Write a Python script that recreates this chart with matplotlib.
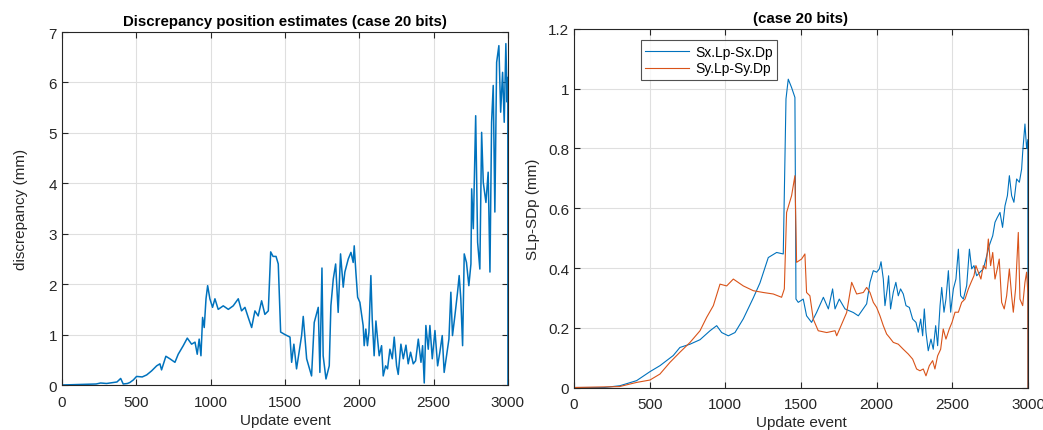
import matplotlib.pyplot as plt

plt.rcParams['font.family'] = ['Liberation Sans', 'DejaVu Sans']

# left panel: discrepancy (mm) vs update event
ev_d = [0, 230, 260, 300, 345, 370, 395, 412, 440, 457, 480, 502, 540, 570, 603, 637, 659, 670,
        699, 726, 760, 782, 816, 843, 872, 895, 910, 923, 935, 946, 957, 969, 980, 995, 1013,
        1029, 1051, 1085, 1119, 1152, 1186, 1208, 1231, 1253, 1276, 1298, 1320, 1343, 1365,
        1388, 1404, 1420, 1440, 1455, 1471, 1500, 1534, 1545, 1560, 1578, 1612, 1623, 1646,
        1679, 1697, 1724, 1735, 1749, 1757, 1776, 1798, 1809, 1825, 1841, 1858, 1874, 1892,
        1903, 1926, 1944, 1959, 1966, 1977, 1989, 2004, 2015, 2026, 2033, 2044, 2055, 2065,
        2078, 2087, 2100, 2112, 2123, 2134, 2150, 2161, 2177, 2190, 2206, 2222, 2235, 2251,
        2262, 2280, 2296, 2314, 2329, 2345, 2363, 2379, 2397, 2415, 2426, 2437, 2448, 2464,
        2475, 2491, 2509, 2527, 2542, 2558, 2571, 2587, 2603, 2616, 2627, 2643, 2661, 2672,
        2683, 2695, 2706, 2721, 2737, 2751, 2756, 2767, 2783, 2796, 2811, 2823, 2834, 2852,
        2867, 2879, 2890, 2901, 2912, 2924, 2939, 2951, 2964, 2975, 2986, 2995, 2999, 3000]
disc = [0, 0.02, 0.04, 0.03, 0.05, 0.06, 0.13, 0.02, 0.03, 0.05, 0.1, 0.17, 0.16, 0.2, 0.28, 0.38,
        0.42, 0.3, 0.57, 0.52, 0.45, 0.61, 0.78, 0.93, 0.81, 0.85, 0.61, 0.91, 0.58, 1.34, 1.14,
        1.71, 1.97, 1.71, 1.54, 1.71, 1.5, 1.57, 1.5, 1.57, 1.71, 1.47, 1.54, 1.34, 1.14, 1.47,
        1.37, 1.67, 1.4, 1.47, 2.64, 2.55, 2.55, 2.4, 1.05, 1.0, 0.95, 0.45, 0.81, 0.32, 0.98,
        1.36, 0.52, 0.18, 1.24, 1.54, 0.25, 2.32, 0.58, 0.12, 0.38, 1.57, 2.1, 2.4, 1.44, 2.6,
        1.94, 2.24, 2.5, 2.63, 2.43, 2.76, 2.24, 1.74, 1.64, 1.41, 1.18, 0.78, 1.11, 0.78, 1.05,
        2.17, 1.31, 0.58, 1.27, 0.91, 0.58, 0.78, 0.18, 0.38, 0.32, 0.71, 0.52, 0.95, 0.38,
        0.21, 0.81, 0.52, 0.79, 0.42, 0.65, 0.42, 0.48, 0.91, 0.45, 0.78, 0.04, 1.18, 0.71,
        1.18, 0.52, 1.08, 0.38, 0.65, 0.98, 0.25, 0.58, 0.91, 1.84, 0.98, 1.37, 1.84, 2.17,
        1.71, 0.78, 2.6, 2.43, 1.97, 2.4, 3.89, 3.1, 5.34, 2.83, 2.3, 5.01, 4.02, 3.62,
        4.22, 2.24, 5.21, 5.94, 3.43, 6.4, 6.73, 5.41, 6.2, 5.21, 6.77, 5.61, 6.1, 0]

# right panel: Sx.Lp-Sx.Dp
ev_x = [0, 200, 304, 414, 502, 568, 656, 700, 767, 833, 899, 943, 976, 1020, 1064, 1119, 1185,
        1229, 1284, 1339, 1383, 1401, 1416, 1438, 1460, 1467, 1482, 1515, 1537, 1570, 1603,
        1648, 1681, 1709, 1725, 1753, 1791, 1846, 1879, 1934, 1956, 1978, 2000, 2018, 2029,
        2044, 2055, 2070, 2079, 2092, 2110, 2127, 2143, 2158, 2176, 2194, 2216, 2238, 2260,
        2275, 2291, 2304, 2315, 2326, 2341, 2359, 2374, 2390, 2403, 2419, 2430, 2445, 2458,
        2474, 2489, 2507, 2524, 2540, 2555, 2573, 2595, 2613, 2628, 2643, 2661, 2683, 2705,
        2722, 2744, 2767, 2782, 2797, 2815, 2832, 2848, 2864, 2877, 2892, 2907, 2925, 2943,
        2958, 2965, 2980, 2991, 2999, 3000]
sx = [0, 0, 0.006, 0.023, 0.053, 0.073, 0.107, 0.134, 0.145, 0.16, 0.19, 0.207, 0.184, 0.173,
      0.184, 0.23, 0.30, 0.35, 0.435, 0.452, 0.447, 0.966, 1.032, 1.004, 0.971, 0.296, 0.285,
      0.296, 0.24, 0.218, 0.251, 0.302, 0.263, 0.33, 0.263, 0.296, 0.263, 0.251, 0.24, 0.28,
      0.352, 0.391, 0.386, 0.397, 0.421, 0.363, 0.274, 0.33, 0.374, 0.263, 0.319, 0.352, 0.307,
      0.33, 0.313, 0.274, 0.268, 0.229, 0.218, 0.185, 0.229, 0.173, 0.263, 0.185, 0.123, 0.162,
      0.128, 0.207, 0.14, 0.274, 0.335, 0.252, 0.296, 0.391, 0.252, 0.33, 0.363, 0.463, 0.307,
      0.296, 0.341, 0.463, 0.397, 0.408, 0.374, 0.386, 0.397, 0.43, 0.475, 0.508, 0.553, 0.569,
      0.586, 0.536, 0.608, 0.642, 0.709, 0.642, 0.62, 0.698, 0.687, 0.731, 0.787, 0.882, 0.80,
      0.83, 0]

# right panel: Sy.Lp-Sy.Dp
ev_y = [0, 300, 414, 502, 568, 634, 700, 767, 833, 877, 921, 965, 1009, 1053, 1119, 1185, 1251,
        1317, 1372, 1390, 1405, 1438, 1460, 1471, 1504, 1526, 1537, 1559, 1581, 1614, 1670,
        1725, 1736, 1769, 1802, 1835, 1868, 1912, 1934, 1956, 1978, 2000, 2022, 2044, 2066,
        2084, 2110, 2143, 2176, 2209, 2238, 2264, 2286, 2308, 2326, 2348, 2370, 2385, 2403,
        2423, 2440, 2458, 2480, 2498, 2518, 2540, 2562, 2584, 2606, 2624, 2643, 2656, 2672,
        2689, 2705, 2722, 2738, 2753, 2767, 2782, 2797, 2810, 2826, 2843, 2859, 2877, 2892,
        2903, 2918, 2936, 2947, 2965, 2980, 2991, 2999, 3000]
sy = [0, 0.003, 0.017, 0.025, 0.045, 0.084, 0.118, 0.151, 0.19, 0.235, 0.274, 0.346, 0.34,
      0.363, 0.34, 0.324, 0.318, 0.313, 0.302, 0.33, 0.586, 0.642, 0.709, 0.419, 0.43, 0.447,
      0.318, 0.307, 0.229, 0.19, 0.184, 0.19, 0.173, 0.212, 0.251, 0.352, 0.313, 0.318, 0.335,
      0.318, 0.285, 0.268, 0.24, 0.207, 0.179, 0.168, 0.151, 0.145, 0.128, 0.112, 0.095, 0.062,
      0.056, 0.062, 0.039, 0.073, 0.09, 0.062, 0.106, 0.128, 0.196, 0.162, 0.196, 0.218, 0.252,
      0.252, 0.285, 0.296, 0.33, 0.352, 0.374, 0.408, 0.386, 0.363, 0.408, 0.397, 0.497, 0.408,
      0.452, 0.363, 0.397, 0.43, 0.285, 0.263, 0.307, 0.397, 0.307, 0.252, 0.33, 0.519, 0.296,
      0.274, 0.352, 0.386, 0.318, 0]

blue = '#0072BD'
orange = '#D95319'
axc = '#262626'


def style(ax):
    ax.grid(True, color='#dfdfdf', linewidth=0.8)
    ax.set_axisbelow(True)
    ax.tick_params(direction='in', top=True, right=True, labelsize=11, colors=axc,
                   length=4, width=0.8)
    ax.tick_params(axis='x', pad=7)
    for s in ax.spines.values():
        s.set_color(axc)
        s.set_linewidth(0.8)
    ax.set_xlim(0, 3000)
    ax.set_xticks(range(0, 3001, 500))


fig = plt.figure(figsize=(10.43, 4.31), dpi=100)
ax1 = fig.add_axes([0.0594, 0.1044, 0.4276, 0.819])
ax2 = fig.add_axes([0.5503, 0.0986, 0.4353, 0.8318])

ax1.plot(ev_d, disc, color=blue, lw=1.1)
style(ax1)
ax1.set_ylim(0, 7)
ax1.set_xlabel('Update event', fontsize=11, color=axc, labelpad=3)
ax1.set_ylabel('discrepancy (mm)', fontsize=11, color=axc, labelpad=15)
ax1.set_title('Discrepancy position estimates (case 20 bits)', fontsize=10.8, fontweight='bold', pad=5)

ax2.plot(ev_x, sx, color=blue, lw=0.8, label='Sx.Lp-Sx.Dp')
ax2.plot(ev_y, sy, color=orange, lw=0.8, label='Sy.Lp-Sy.Dp')
style(ax2)
ax2.set_ylim(0, 1.2)
ax2.set_yticks([0, 0.2, 0.4, 0.6, 0.8, 1, 1.2], ['0', '0.2', '0.4', '0.6', '0.8', '1', '1.2'])
ax2.set_xlabel('Update event', fontsize=11, color=axc, labelpad=3)
ax2.set_ylabel('SLp-SDp (mm)', fontsize=11, color=axc, labelpad=6)
ax2.set_title('(case 20 bits)', fontsize=10.8, fontweight='bold', pad=5)
leg = ax2.legend(loc='upper left', bbox_to_anchor=(0.147, 0.968), fontsize=10, handlelength=3.2,
                 fancybox=False, edgecolor=axc, borderpad=0.3, labelspacing=0.2,
                 handletextpad=0.4, borderaxespad=0)
leg.get_frame().set_linewidth(0.8)

fig.savefig('out.png', dpi=100)
